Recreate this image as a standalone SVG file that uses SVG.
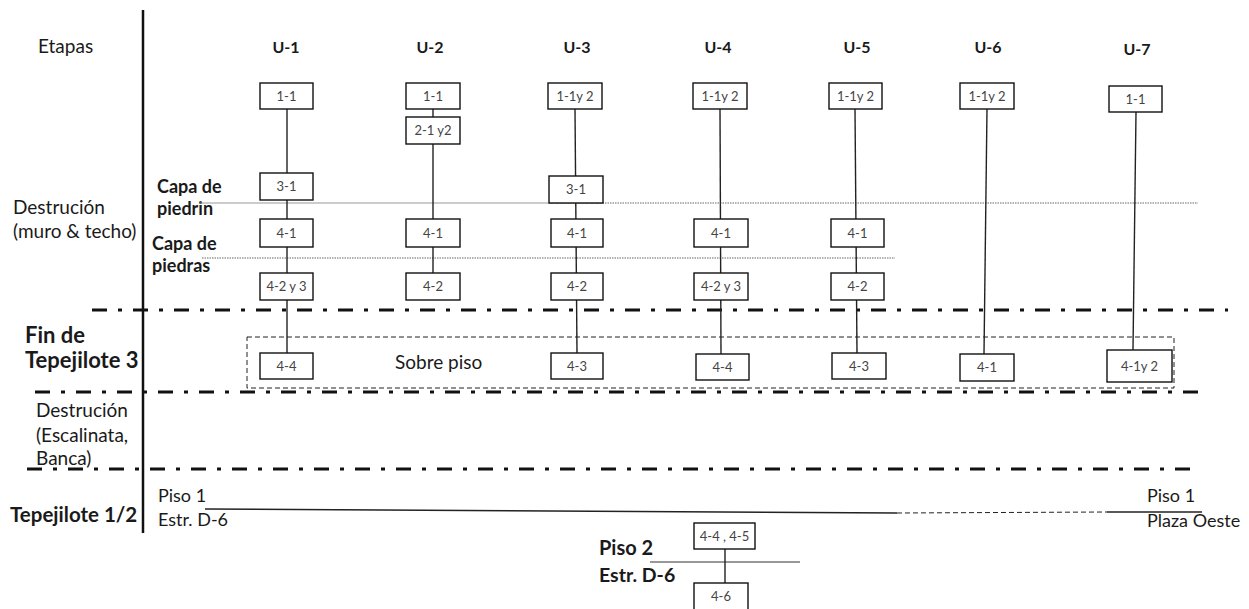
<svg xmlns="http://www.w3.org/2000/svg" width="1249" height="609" viewBox="0 0 1249 609">
<style>
text{font-family:Lato,"Open Sans","Liberation Sans",sans-serif;fill:#1a1a1a}
.lbl{font-size:19px}
.b{font-weight:bold}
.hd{font-size:16px;font-weight:bold;text-anchor:middle}
.bx rect{fill:#fff;stroke:#111;stroke-width:1.4}
.bx text{font-size:13px;fill:#444;text-anchor:middle}
.con line{stroke:#222;stroke-width:1.4}
.dd{stroke:#111;stroke-width:3;stroke-dasharray:15 11 4 11;fill:none}
.dot{stroke:#666;stroke-width:1;stroke-dasharray:1.5 1;fill:none}
</style>
<rect width="1249" height="609" fill="#fff"/>
<g id="axis"><line x1="143" y1="10" x2="143" y2="533" stroke="#111" stroke-width="2.5"/></g>
<g id="labels">
<text class="lbl" x="38" y="53">Etapas</text>
<text class="lbl" x="13" y="214">Destrución</text>
<text class="lbl" x="13" y="238">(muro &amp; techo)</text>
<text class="lbl b" x="157" y="193" style="font-size:18px">Capa de</text>
<text class="lbl b" x="157" y="215" style="font-size:18px">piedrin</text>
<text class="lbl b" x="152" y="250" style="font-size:18px">Capa de</text>
<text class="lbl b" x="152" y="272" style="font-size:18px">piedras</text>
<text class="lbl b" x="25" y="343" style="font-size:22px">Fin de</text>
<text class="lbl b" x="25" y="368" style="font-size:22px">Tepejilote 3</text>
<text class="lbl" x="395" y="369">Sobre piso</text>
<text class="lbl" x="36" y="417">Destrución</text>
<text class="lbl" x="36" y="442">(Escalinata,</text>
<text class="lbl" x="36" y="465">Banca)</text>
<text class="lbl b" x="10" y="522" style="font-size:20.5px">Tepejilote 1/2</text>
<text class="lbl" x="158" y="502" style="font-size:18px">Piso 1</text>
<text class="lbl" x="158" y="526" style="font-size:18px">Estr. D-6</text>
<text class="lbl" x="1147" y="502" style="font-size:18px">Piso 1</text>
<text class="lbl" x="1147" y="527" style="font-size:18px">Plaza Oeste</text>
<text class="lbl b" x="599" y="555" style="font-size:20px">Piso 2</text>
<text class="lbl b" x="599" y="582" style="font-size:19.5px">Estr. D-6</text>
<text class="hd" x="286" y="53">U-1</text>
<text class="hd" x="430" y="53">U-2</text>
<text class="hd" x="577" y="53">U-3</text>
<text class="hd" x="718" y="53">U-4</text>
<text class="hd" x="857" y="53">U-5</text>
<text class="hd" x="988" y="53">U-6</text>
<text class="hd" x="1137" y="55">U-7</text>
</g>
<g id="separators">
<line class="dd" x1="92" y1="310" x2="1228" y2="310"/>
<line class="dd" x1="35" y1="392" x2="1203" y2="392"/>
<line class="dd" x1="27" y1="469" x2="1195" y2="469"/>
<line x1="200" y1="203" x2="550" y2="203" stroke="#999" stroke-width="1.2"/>
<line class="dot" x1="550" y1="203" x2="1198" y2="203"/>
<line class="dot" x1="202" y1="258" x2="895" y2="258"/>
<rect x="247" y="337" width="927" height="51" fill="none" stroke="#222" stroke-width="1" stroke-dasharray="5 3"/>
<polyline points="205,509 897,513" fill="none" stroke="#222" stroke-width="1.4"/>
<line x1="897" y1="513" x2="1107" y2="512" stroke="#222" stroke-width="1" stroke-dasharray="5 3"/>
<line x1="1107" y1="512" x2="1202" y2="512" stroke="#222" stroke-width="1.4"/>
<line x1="650" y1="562" x2="800" y2="562" stroke="#333" stroke-width="1.2"/>
</g>
<g id="connectors" class="con">
<line x1="287" y1="109" x2="287" y2="353"/>
<line x1="433" y1="109" x2="433" y2="273"/>
<line x1="575" y1="109" x2="577" y2="353"/>
<line x1="720" y1="109" x2="721" y2="354"/>
<line x1="855" y1="109" x2="857" y2="353"/>
<line x1="987" y1="109" x2="984" y2="354"/>
<line x1="1136" y1="112" x2="1133" y2="350"/>
<line x1="725" y1="549" x2="725" y2="583"/>
</g>
<g id="u1" class="bx">
<rect x="260" y="83" width="53" height="26"/><text x="286.5" y="101">1-1</text>
<rect x="260" y="173" width="53" height="27"/><text x="286.5" y="191">3-1</text>
<rect x="260" y="219" width="53" height="28"/><text x="286.5" y="238">4-1</text>
<rect x="260" y="273" width="53" height="27"/><text x="286.5" y="291">4-2 y 3</text>
<rect x="260" y="353" width="53" height="26"/><text x="286.5" y="371">4-4</text>
</g>
<g id="u2" class="bx">
<rect x="406" y="83" width="54" height="26"/><text x="433" y="101">1-1</text>
<rect x="406" y="117" width="54" height="27"/><text x="433" y="135">2-1 y2</text>
<rect x="406" y="219" width="54" height="28"/><text x="433" y="238">4-1</text>
<rect x="406" y="273" width="54" height="27"/><text x="433" y="291">4-2</text>
</g>
<g id="u3" class="bx">
<rect x="548" y="83" width="54" height="26"/><text x="575" y="101">1-1y 2</text>
<rect x="549" y="176" width="54" height="27"/><text x="576" y="194">3-1</text>
<rect x="551" y="219" width="52" height="28"/><text x="577" y="238">4-1</text>
<rect x="551" y="273" width="52" height="27"/><text x="577" y="291">4-2</text>
<rect x="551" y="353" width="52" height="26"/><text x="577" y="371">4-3</text>
</g>
<g id="u4" class="bx">
<rect x="693" y="83" width="54" height="26"/><text x="720" y="101">1-1y 2</text>
<rect x="694" y="219" width="54" height="28"/><text x="721" y="238">4-1</text>
<rect x="694" y="273" width="54" height="27"/><text x="721" y="291">4-2 y 3</text>
<rect x="696" y="354" width="53" height="26"/><text x="722.5" y="372">4-4</text>
</g>
<g id="u5" class="bx">
<rect x="829" y="83" width="53" height="26"/><text x="855.5" y="101">1-1y 2</text>
<rect x="831" y="219" width="53" height="28"/><text x="857.5" y="238">4-1</text>
<rect x="831" y="273" width="53" height="27"/><text x="857.5" y="291">4-2</text>
<rect x="832" y="353" width="54" height="26"/><text x="859" y="371">4-3</text>
</g>
<g id="u6" class="bx">
<rect x="960" y="83" width="54" height="26"/><text x="987" y="101">1-1y 2</text>
<rect x="960" y="354" width="54" height="27"/><text x="987" y="372">4-1</text>
</g>
<g id="u7" class="bx">
<rect x="1109" y="86" width="53" height="26"/><text x="1135.5" y="104">1-1</text>
<rect x="1107" y="350" width="65" height="32"/><text x="1139.5" y="371">4-1y 2</text>
</g>
<g id="d6" class="bx">
<rect x="694" y="523" width="61" height="26"/><text x="724.5" y="541">4-4 , 4-5</text>
<rect x="694" y="583" width="54" height="30"/><text x="721" y="601">4-6</text>
</g>
</svg>
